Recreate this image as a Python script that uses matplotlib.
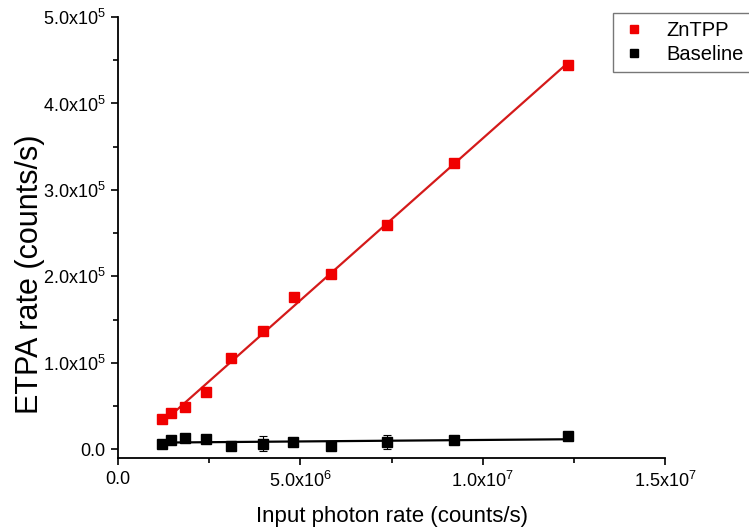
import numpy as np
import matplotlib
matplotlib.use("Agg")
import matplotlib.pyplot as plt
from matplotlib.ticker import MultipleLocator, FuncFormatter

plt.rcParams['font.family'] = ['Liberation Sans', 'DejaVu Sans']
plt.rcParams['mathtext.fontset'] = 'custom'
plt.rcParams['mathtext.rm'] = 'Liberation Sans'

# Input photon rate (counts/s)
x_zntpp = [1.20e6, 1.45e6, 1.84e6, 2.41e6, 3.09e6, 3.98e6, 4.82e6, 5.83e6, 7.37e6, 9.22e6, 12.34e6]
x_base = [1.20e6, 1.45e6, 1.84e6, 2.41e6, 3.09e6, 3.98e6, 4.79e6, 5.83e6, 7.38e6, 9.21e6, 12.34e6]

# ETPA rate (counts/s)
y_zntpp = [0.35e5, 0.415e5, 0.485e5, 0.66e5, 1.053e5, 1.368e5, 1.76e5, 2.025e5, 2.60e5, 3.306e5, 4.444e5]
y_base = [0.066e5, 0.107e5, 0.134e5, 0.119e5, 0.04e5, 0.066e5, 0.08e5, 0.04e5, 0.088e5, 0.107e5, 0.154e5]
yerr_base = [0.15e4, 0.15e4, 0.15e4, 0.15e4, 0.35e4, 0.9e4, 0.1e4, 0.15e4, 0.8e4, 0.35e4, 0.3e4]

fig = plt.figure(figsize=(7.49, 5.31), dpi=100)
ax = fig.add_axes([118 / 749, 1 - 458 / 531, (665 - 118) / 749, (458 - 17) / 531])

# linear fits
xz = np.array(x_zntpp)
yz = np.array(y_zntpp)
pz = np.polyfit(xz[1:], yz[1:], 1)
xf = np.array([xz[1], xz[-1]])
ax.plot(xf, np.polyval(pz, xf), color='#d41a1a', lw=1.6, zorder=2)

xb = np.array(x_base)
pb = np.polyfit(xb, np.array(y_base), 1)
xfb = np.array([xb[0], xb[-1]])
ax.plot(xfb, np.polyval(pb, xfb), color='black', lw=1.6, zorder=2)

ax.errorbar(x_base, y_base, yerr=yerr_base, fmt='none', ecolor='black',
            elinewidth=0.8, capsize=3, capthick=0.8, zorder=3)
ax.plot(x_base, y_base, 's', color='black', ms=6.5, zorder=3)
ax.plot(x_zntpp, y_zntpp, 's', color='#f00000', ms=6.5, zorder=4)

ax.set_xlim(0, 1.5e7)
ax.set_ylim(-1.0e4, 5.0e5)

def sci(v, pos):
    if v == 0:
        return '0.0'
    e = int(np.floor(np.log10(abs(v))))
    m = v / 10 ** e
    return r'%.1fx10$^{%d}$' % (m, e)

ax.xaxis.set_major_locator(MultipleLocator(5e6))
ax.xaxis.set_minor_locator(MultipleLocator(2.5e6))
ax.yaxis.set_major_locator(MultipleLocator(1e5))
ax.yaxis.set_minor_locator(MultipleLocator(0.5e5))
ax.xaxis.set_major_formatter(FuncFormatter(sci))
ax.yaxis.set_major_formatter(FuncFormatter(sci))

for s in ['top', 'right']:
    ax.spines[s].set_visible(False)
for s in ['left', 'bottom']:
    ax.spines[s].set_linewidth(1.3)

ax.tick_params(which='major', direction='out', length=5, width=1.2, labelsize=13, pad=4)
ax.tick_params(which='minor', direction='out', length=3.5, width=1.2)

ax.set_xlabel('Input photon rate (counts/s)', fontsize=16, labelpad=11)
ax.set_ylabel('ETPA rate (counts/s)', fontsize=22)
ax.yaxis.set_label_coords((45 - 118) / 547, (458 - 274) / 441)

# legend entries: markers only
h_z, = ax.plot([], [], 's', color='#f00000', ms=6.5)
h_b, = ax.plot([], [], 's', color='black', ms=6.5)
leg = fig.legend([h_z, h_b], ['ZnTPP', 'Baseline'],
                 loc='upper left', bbox_to_anchor=(613 / 749, 1 - 13 / 531),
                 borderaxespad=0, fontsize=14.5, frameon=True, fancybox=False,
                 edgecolor='#555555', handlelength=1.3, handletextpad=0.95,
                 borderpad=0.4, labelspacing=0.25, markerscale=0.85)
leg.get_frame().set_linewidth(1.0)

fig.savefig('out.png', dpi=100)
